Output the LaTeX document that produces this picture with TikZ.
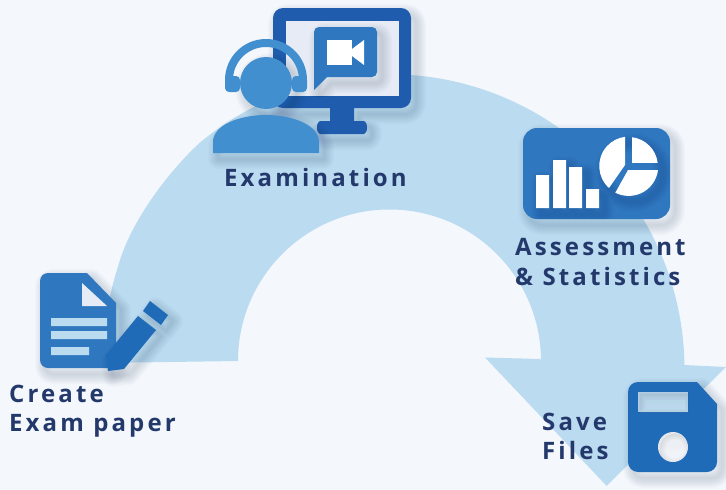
\documentclass[tikz,border=0pt]{standalone}
\usepackage{fontspec}
\setmainfont{Open Sans}[BoldFont={Open Sans Bold}]
\definecolor{bgc}{HTML}{F4F8FC}
\definecolor{flow}{HTML}{BBDBF1}
\definecolor{mon}{HTML}{205CAD}
\definecolor{card}{HTML}{2F78C0}
\definecolor{person}{HTML}{428FCF}
\definecolor{deep}{HTML}{1F6BB8}
\definecolor{paleface}{HTML}{E6EBF6}
\definecolor{labelc}{HTML}{24396B}
\definecolor{shade}{HTML}{1A2A5A}
\newcommand{\softshadow}[1]{%
  \foreach \w in {2,4,...,20}{%
    \draw[shadowlayer,line width=\w pt] #1;
  }}
\newcommand{\innershade}[1]{%
  \begin{scope}
    \clip #1;
    \foreach \w in {2,5,8,11}{\draw[shade,opacity=.018,line width=\w pt,xshift=2pt,yshift=-2pt] #1;}
  \end{scope}}
\tikzset{
  shadowlayer/.style={draw=shade,opacity=0.014,line join=round,xshift=5pt,yshift=-6pt},
  lbl/.style={anchor=base west,inner sep=0,text=labelc,font=\fontsize{24}{29}\selectfont\bfseries\addfontfeature{LetterSpace=13}},
}
\begin{document}
\begin{tikzpicture}[x=1pt,y=-1pt]
\useasboundingbox (0,0) rectangle (726,490);
\clip (0,0) rectangle (726,490);
\fill[bgc] (0,0) rectangle (726,490);
% flow arrow
\fill[flow] (684.5,369.7) arc[start angle=360,end angle=230.1,radius=295.5]
  .. controls (165,175) and (132,222) .. (120,260)
  .. controls (113,282) and (107,305) .. (104,330) -- (100,363) -- (238,361)
  arc[start angle=180,end angle=360,radius=151.5]
  -- (540,359) -- (485,357.5) -- (606.7,486) -- (740,353) -- (726,367) -- (684,365) -- cycle;
% Monitor
\def\monpath{(283,8) -- (401,8) arc[start angle=-90,end angle=0,radius=10] -- (411,98) arc[start angle=0,end angle=90,radius=10] -- (354,108) -- (354,121) -- (364,121) arc[start angle=-90,end angle=90,x radius=3,y radius=6.5] -- (320,134) arc[start angle=90,end angle=270,x radius=3,y radius=6.5] -- (330,121) -- (330,108) -- (283,108) arc[start angle=90,end angle=180,radius=10] -- (273,18) arc[start angle=180,end angle=270,radius=10] -- cycle}
\softshadow{\monpath}
\fill[mon] \monpath;
\fill[paleface] (286,21) rectangle (399,96);
\def\bubpath{(319,27) -- (372,27) arc[start angle=-90,end angle=0,radius=5] -- (377,72) arc[start angle=0,end angle=90,radius=5] -- (327,77) -- (314,90) -- (314,32) arc[start angle=180,end angle=270,radius=5] -- cycle}
\begin{scope}
\clip (286,21) rectangle (399,96);
\softshadow{\bubpath}
\end{scope}
\fill[card] \bubpath;
\fill[white] (327,40) rectangle (352,65);
\fill[white] (352,49) -- (364,40) -- (364,65) -- (352,56) -- cycle;
% Person
\def\perpath{(213,153) -- (213,140) .. controls (216,122) and (245,115) .. (266,115) .. controls (287,115) and (316,122) .. (319,140) -- (319,153) -- cycle}
\softshadow{\perpath}
\softshadow{(266,83) circle[radius=26]}
\fill[person] (225,80) arc[start angle=180,end angle=360,radius=41] -- (299,80) arc[start angle=360,end angle=180,radius=33] -- cycle;
\fill[person,rounded corners=4pt] (225,76) rectangle (240,92);
\fill[person,rounded corners=4pt] (292,76) rectangle (307,92);
\fill[person] (266,83) circle[radius=26];
\fill[person] \perpath;
% Card
\def\cardpath{(537,128) -- (656,128) arc[start angle=-90,end angle=0,radius=14] -- (670,205) arc[start angle=0,end angle=90,radius=14] -- (537,219) arc[start angle=90,end angle=180,radius=14] -- (523,142) arc[start angle=180,end angle=270,radius=14] -- cycle}
\softshadow{\cardpath}
\fill[card] \cardpath;
\begin{scope}
\clip \cardpath;
\def\statpath{(536,175) rectangle (549,208) (553,160) rectangle (566,208) (569,167) rectangle (582,208) (586,189) rectangle (599,208) (628.5,166.5) circle[radius=29.5]}
\softshadow{\statpath}
\end{scope}
\fill[white] (536,175) rectangle (549,208) (553,160) rectangle (566,208) (569,167) rectangle (582,208) (586,189) rectangle (599,208);
\fill[white] (632,163) -- (632,137.2) arc[start angle=-83,end angle=-7,radius=29.5] -- cycle;
\fill[white] (628,170) -- (658,170) arc[start angle=7,end angle=117,radius=29.5] -- cycle;
\fill[white] (625,165) -- (609,188) arc[start angle=132,end angle=263,radius=29.5] -- cycle;
% Document
\def\docpath{(48,273) -- (87,273) -- (116,303) -- (116,360) arc[start angle=0,end angle=90,radius=8] -- (48,368) arc[start angle=90,end angle=180,radius=8] -- (40,281) arc[start angle=180,end angle=270,radius=8] -- cycle}
\softshadow{\docpath}
\fill[card] \docpath;
\fill[paleface] (82,283) -- (82,306) -- (107,306) -- cycle;
\fill[flow] (51,318) rectangle (107,326) (51,331) rectangle (107,339) (51,347) rectangle (89,355);
\def\penpath{(138,316) -- (156,330) -- (124,369) -- (108,371) -- (106,355) -- cycle (150,301) -- (168,315) -- (161,325) -- (143,311) -- cycle}
\softshadow{\penpath}
\fill[deep] \penpath;
% Floppy
\def\flopath{(638,382) -- (697,382) -- (717,404) -- (717,462) arc[start angle=0,end angle=90,radius=10] -- (638,472) arc[start angle=90,end angle=180,radius=10] -- (628,392) arc[start angle=180,end angle=270,radius=10] -- cycle}
\softshadow{\flopath}
\fill[deep] \flopath;
\fill[flow] (638,392) rectangle (688,412);
\innershade{(638,392) rectangle (688,412)}
\fill[bgc] (673,447) circle[radius=15];
\innershade{(673,447) circle[radius=15]}
% Labels
\node[lbl] (exam) at (224,186) {Examination};
\node[lbl] (assess) at (515,255.5) {Assessment};
\node[lbl] (stats) at (515,285) {\& Statistics};
\node[lbl] (create) at (9,402) {Create};
\node[lbl] (paper) at (9,431) {Exam paper};
\node[lbl] (save) at (542,430) {Save};
\node[lbl] (files) at (542,459) {Files};
\end{tikzpicture}
\end{document}
